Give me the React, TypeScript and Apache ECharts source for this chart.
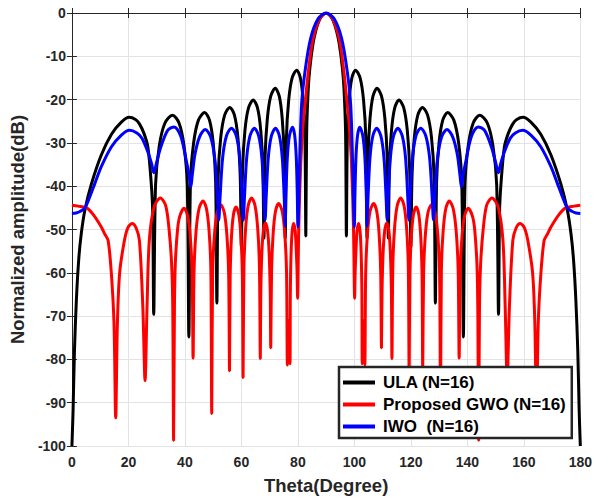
import React, { useEffect, useRef } from "react";
import * as echarts from "echarts";

const seriesNames = ["ULA (N=16)", "Proposed GWO (N=16)", "IWO  (N=16)"];
const seriesColors = ["#000000", "#ff0000", "#0000ff"];

// ULA (N=16) [theta, dB]
const ulaLeft = [
  [0, -100], [0.4, -92], [0.9, -78], [1.6, -66], [2.4, -57], [3.3, -51], [4.6, -45.5], [6.9, -39.5], [10.4, -32.8], [14, -28], [17.5, -25.2], [20.3, -24.1], [22.5, -24.6], [23.9, -25.6], [25.5, -27.8], [26.9, -31], [28.1, -39.5], [28.6, -46], [28.96, -69.6],
  [29.62, -39.6], [30.95, -30.6], [32.94, -25.4], [35.6, -23.6], [37.92, -25.4], [39.67, -30.6], [40.83, -39.6], [41.41, -74.8],
  [41.97, -39], [43.09, -30], [44.76, -24.8], [47.0, -23.0], [48.73, -24.8], [50.02, -30], [50.89, -39], [51.32, -67],
  [51.78, -37.8], [52.69, -28.8], [54.07, -23.6], [55.9, -21.8], [57.54, -23.6], [58.77, -28.8], [59.59, -37.8], [60, -54],
  [60.42, -36.1], [61.26, -27.1], [62.52, -21.9], [64.2, -20.1], [65.71, -21.9], [66.85, -27.1], [67.6, -36.1], [67.98, -52],
  [68.38, -33.4], [69.19, -24.4], [70.39, -19.2], [72.0, -17.4], [73.41, -19.2], [74.46, -24.4], [75.17, -33.4], [75.52, -52],
  [75.93, -29.2], [76.74, -20.2], [77.97, -15.0], [79.6, -13.2], [80.89, -15.0], [81.85, -20.2], [82.5, -29.2], [82.82, -51.5],
];
const ulaMain = [
  [83.11, -27.6], [83.68, -17.5], [84.26, -12.6], [85.41, -6.9], [86.42, -3.9], [87.42, -1.9], [88.28, -0.84], [90, 0],
  [91.72, -0.84], [92.58, -1.9], [93.58, -3.9], [94.59, -6.9], [95.74, -12.6], [96.32, -17.5], [96.89, -27.6],
];
const ulaRight = [
  [97.18, -51.5], [97.5, -29.2], [98.15, -20.2], [99.11, -15.0], [100.4, -13.2], [102.03, -15.0], [103.26, -20.2], [104.07, -29.2], [104.48, -52],
  [104.83, -33.4], [105.54, -24.4], [106.59, -19.2], [108.0, -17.4], [109.61, -19.2], [110.81, -24.4], [111.62, -33.4], [112.02, -52],
  [112.4, -36.1], [113.15, -27.1], [114.29, -21.9], [115.8, -20.1], [117.48, -21.9], [118.74, -27.1], [119.58, -36.1], [120, -54],
  [120.41, -37.8], [121.23, -28.8], [122.46, -23.6], [124.1, -21.8], [125.93, -23.6], [127.31, -28.8], [128.22, -37.8], [128.68, -67],
  [129.11, -39], [129.98, -30], [131.27, -24.8], [133.0, -23.0], [135.24, -24.8], [136.91, -30], [138.03, -39], [138.59, -74.8],
  [139.17, -39.6], [140.33, -30.6], [142.08, -25.4], [144.4, -23.6], [147.06, -25.4], [149.05, -30.6], [150.38, -39.6], [151.04, -69.6],
  [151.4, -46], [151.9, -39.5], [153.1, -31], [154.5, -27.8], [156.1, -25.6], [157.5, -24.6], [159.7, -24.1], [162.5, -25.2], [166, -28], [169.6, -32.8], [173.1, -39.5], [175.4, -45.5], [176.7, -51], [177.6, -57], [178.4, -66], [179.1, -78], [179.6, -92], [180, -100],
];

// Proposed GWO (N=16)
const gwoLeft = [
  [0, -44.4], [2.2, -44.6], [5.2, -45], [7.5, -46.5], [10.4, -49.4], [11.6, -51], [12.8, -52.5], [13.95, -60], [14.9, -71.7], [15.5, -93.5],
  [16.1, -71.7], [16.9, -60], [18.6, -52.5], [19.8, -49.6], [21.3, -48.6], [22.7, -49.6], [23.9, -52.5], [25.1, -67.8], [25.9, -84.9],
  [26.6, -67.8], [27.4, -52.5], [29.1, -44.8], [31.3, -42.7], [33.2, -44.5], [34.4, -50], [35.3, -58], [35.7, -68], [36.0, -98.7],
  [36.3, -68], [36.6, -58], [37.4, -50], [38.2, -46.9], [39.7, -45.1], [41.0, -46.9], [41.94, -52], [42.58, -61], [42.9, -79.7],
  [43.25, -59.4], [43.95, -50.4], [45.0, -45.2], [46.4, -43.4], [47.64, -45.2], [48.57, -50.4], [49.19, -59.4], [49.5, -92.5],
  [49.82, -60.3], [50.46, -51.3], [51.42, -46.1], [52.7, -44.3], [53.94, -46.1], [54.87, -51.3], [55.49, -60.3], [55.8, -82.6],
  [56.03, -60.8], [56.49, -51.8], [57.18, -46.6], [58.1, -44.8], [59.1, -46.6], [59.85, -51.8], [60.35, -60.8], [60.6, -84.2],
  [60.9, -58.7], [61.5, -49.7], [62.4, -44.5], [63.6, -42.7], [64.84, -44.5], [65.77, -49.7], [66.39, -58.7], [66.7, -79.8],
  [66.88, -64.5], [67.24, -55.5], [67.78, -50.3], [68.5, -48.5], [69.26, -50.3], [69.83, -55.5], [70.21, -64.5], [70.4, -77.3],
  [70.68, -60], [71.24, -51], [72.08, -45.8], [73.2, -44.0], [74.44, -45.8], [75.37, -51], [75.99, -60], [76.3, -81.3],
  [76.75, -71], [77.2, -81],
  [77.33, -64.6], [77.59, -55.6], [77.98, -50.4], [78.5, -48.6], [79.06, -50.4], [79.48, -55.6], [79.72, -60], [79.9, -65.9],
];
const gwoMain = [
  [80.3, -50], [81.0, -35], [81.8, -26], [82.5, -21.3], [83.7, -13.6], [85.4, -5.9], [87.8, -1.3], [90, 0],
  [92.2, -1.3], [94.6, -5.9], [96.3, -13.6], [97.5, -21.3], [98.2, -26], [99.0, -35], [99.7, -50],
];
const gwoRight = [
  [100.1, -65.9], [100.28, -60], [100.52, -55.6], [100.94, -50.4], [101.5, -48.6], [102.02, -50.4], [102.41, -55.6], [102.67, -64.6], [102.8, -81],
  [103.25, -71], [103.7, -81.3],
  [104.01, -60], [104.63, -51], [105.56, -45.8], [106.8, -44.0], [107.92, -45.8], [108.76, -51], [109.32, -60], [109.6, -77.3],
  [109.79, -64.5], [110.17, -55.5], [110.74, -50.3], [111.5, -48.5], [112.22, -50.3], [112.76, -55.5], [113.12, -64.5], [113.3, -79.8],
  [113.61, -58.7], [114.23, -49.7], [115.16, -44.5], [116.4, -42.7], [117.6, -44.5], [118.5, -49.7], [119.1, -58.7], [119.4, -84.2],
  [119.65, -60.8], [120.15, -51.8], [120.9, -46.6], [121.9, -44.8], [122.82, -46.6], [123.51, -51.8], [123.97, -60.8], [124.2, -82.6],
  [124.51, -60.3], [125.13, -51.3], [126.06, -46.1], [127.3, -44.3], [128.58, -46.1], [129.54, -51.3], [130.18, -60.3], [130.5, -92.5],
  [130.81, -59.4], [131.43, -50.4], [132.36, -45.2], [133.6, -43.4], [135.0, -45.2], [136.05, -50.4], [136.75, -59.4], [137.1, -79.7],
  [137.42, -61], [138.06, -52], [139.0, -46.9], [140.3, -45.1], [141.8, -46.9], [142.6, -50], [143.4, -58], [143.7, -68], [144.0, -98.7],
  [144.3, -68], [144.7, -58], [145.6, -50], [146.8, -44.5], [148.7, -42.7], [150.9, -44.8], [152.6, -52.5], [153.4, -67.8], [154.1, -84.9],
  [154.9, -67.8], [156.1, -52.5], [157.3, -49.6], [158.7, -48.6], [160.2, -49.6], [161.4, -52.5], [163.1, -60], [163.9, -71.7], [164.5, -93.5],
  [165.1, -71.7], [166.05, -60], [167.2, -52.5], [168.4, -51], [169.6, -49.4], [172.5, -46.5], [174.8, -45], [177.8, -44.6], [180, -44.4],
];

// IWO (N=16)
const iwoLeft = [
  [0, -46.3], [1.5, -46.2], [3, -45.8], [4.6, -45], [6.3, -42.5], [8.1, -39.4], [10.4, -35.5], [14, -30.9], [17.5, -28.2], [20.4, -27.1], [23, -27.7], [24.8, -28.9], [26.9, -32.1], [28.2, -34.8], [29.0, -36.9],
  [30, -34.5], [31.5, -30.9], [33.9, -27.1], [36.2, -26.3], [38.6, -28.6], [40.7, -34.8], [41.5, -37.5], [42.1, -40.2],
  [42.6, -37.5], [43.6, -32.5], [45.2, -28.6], [47.2, -26.9], [49.1, -28.6], [50.6, -33.8], [51.5, -42.5], [52.0, -47.8],
  [52.45, -42.6], [53.35, -33.5], [54.7, -28.4], [56.5, -26.6], [58.2, -28.4], [59.44, -33.5], [60.28, -42.6], [60.7, -47.8],
  [61.09, -42.6], [61.87, -33.5], [63.04, -28.4], [64.6, -26.6], [66.12, -28.4], [67.26, -33.5], [68.02, -42.6], [68.4, -47.8],
  [68.77, -42.6], [69.51, -33.5], [70.62, -28.4], [72.1, -26.6], [73.46, -28.4], [74.48, -33.5], [75.16, -42.6], [75.5, -49.2],
  [75.76, -42.4], [76.28, -33.3], [77.06, -28.2], [78.1, -26.4], [78.86, -28.2], [79.43, -33.3], [79.81, -42.4], [80.0, -49.4],
];
const iwoMain = [
  [80.6, -35], [81.3, -21.3], [82.5, -13.6], [84.5, -5.9], [87.2, -1.3], [90, 0],
  [92.8, -1.3], [95.5, -5.9], [97.5, -13.6], [98.7, -21.3], [99.4, -35],
];
const iwoRight = [
  [100, -49.4], [100.19, -42.4], [100.57, -33.3], [101.14, -28.2], [101.9, -26.4], [102.94, -28.2], [103.72, -33.3], [104.24, -42.4], [104.5, -49.2],
  [104.84, -42.6], [105.52, -33.5], [106.54, -28.4], [107.9, -26.6], [109.38, -28.4], [110.49, -33.5], [111.23, -42.6], [111.6, -47.8],
  [111.98, -42.6], [112.74, -33.5], [113.88, -28.4], [115.4, -26.6], [116.96, -28.4], [118.13, -33.5], [118.91, -42.6], [119.3, -47.8],
  [119.72, -42.6], [120.56, -33.5], [121.8, -28.4], [123.5, -26.6], [125.3, -28.4], [126.65, -33.5], [127.55, -42.6], [128.0, -47.8],
  [128.5, -42.5], [129.4, -33.8], [130.9, -28.6], [132.8, -26.9], [134.8, -28.6], [136.4, -32.5], [137.4, -37.5], [137.9, -40.2],
  [138.5, -37.5], [139.3, -34.8], [141.4, -28.6], [143.8, -26.3], [146.1, -27.1], [148.5, -30.9], [150, -34.5], [151, -36.9],
  [151.8, -34.8], [153.1, -32.1], [155.2, -28.9], [157, -27.7], [159.6, -27.1], [162.5, -28.2], [166, -30.9], [169.6, -35.5], [171.9, -39.4], [173.7, -42.5], [175.4, -45], [177, -45.8], [178.5, -46.2], [180, -46.3],
];

const xMin = 0, xMax = 180, xStep = 20;
const yMin = -100, yMax = 0, yStep = 10;

const FONT = "'Liberation Sans', Arial, Helvetica, sans-serif";
const AXIS_COLOR = "#262626";

export default function App() {
  const ref = useRef<HTMLDivElement>(null);

  useEffect(() => {
    document.body.style.margin = "0";
    if (!ref.current) return;
    const chart = echarts.init(ref.current, undefined, { renderer: "svg" });

    const labelStyle = { fontSize: 14, fontWeight: "bold", color: AXIS_COLOR, fontFamily: FONT };
    const nameStyle = { fontSize: 18.5, fontWeight: "bold", color: AXIS_COLOR, fontFamily: FONT };
    const lineAxis = { show: true, lineStyle: { color: AXIS_COLOR, width: 1 } };
    const tick = { show: true, inside: true, length: 5, lineStyle: { color: AXIS_COLOR, width: 1 } };
    const split = { show: true, lineStyle: { color: "#e3e3e3", width: 1, type: "solid" } };

    const datasets = [
      [...ulaLeft, ...ulaMain, ...ulaRight],
      [...gwoLeft, ...gwoMain, ...gwoRight],
      [...iwoLeft, ...iwoMain, ...iwoRight],
    ];

    chart.setOption({
      animation: false,
      backgroundColor: "#ffffff",
      textStyle: { fontFamily: FONT },
      grid: { left: 70, right: 13, top: 13, bottom: 55, containLabel: false },
      xAxis: [
        {
          type: "value", min: xMin, max: xMax, interval: xStep, position: "bottom",
          name: "Theta(Degree)", nameLocation: "middle", nameGap: 30, nameTextStyle: nameStyle,
          axisLine: lineAxis, axisTick: tick, axisLabel: { ...labelStyle, margin: 9 }, splitLine: split,
        },
        {
          type: "value", min: xMin, max: xMax, interval: xStep, position: "top",
          axisLine: lineAxis, axisTick: tick, axisLabel: { show: false }, splitLine: { show: false },
        },
      ],
      yAxis: [
        {
          type: "value", min: yMin, max: yMax, interval: yStep, position: "left",
          name: "Normalized amplitude(dB)", nameLocation: "middle", nameGap: 44, nameTextStyle: nameStyle,
          axisLine: lineAxis, axisTick: tick, axisLabel: { ...labelStyle, margin: 6 }, splitLine: split,
        },
        {
          type: "value", min: yMin, max: yMax, interval: yStep, position: "right",
          axisLine: lineAxis, axisTick: tick, axisLabel: { show: false }, splitLine: { show: false },
        },
      ],
      legend: {
        show: true,
        orient: "vertical",
        left: 339,
        top: 367,
        backgroundColor: "#ffffff",
        borderColor: "#262626",
        borderWidth: 2.5,
        borderRadius: 0,
        padding: [7, 6, 3, 4],
        itemWidth: 32,
        itemHeight: 4,
        itemGap: 5,
        icon: "rect",
        textStyle: { fontSize: 17, fontWeight: "bold", color: "#000000", fontFamily: FONT, padding: [0, 0, 0, 3] },
        data: seriesNames,
      },
      series: seriesNames.map((name, i) => ({
        name,
        type: "line",
        xAxisIndex: 0,
        yAxisIndex: 0,
        data: datasets[i],
        smooth: 0.3,
        symbol: "none",
        showSymbol: false,
        clip: true,
        color: seriesColors[i],
        lineStyle: { color: seriesColors[i], width: 3 },
        z: 2 + i,
      })),
    });

    return () => chart.dispose();
  }, []);

  return <div ref={ref} style={{ width: 595, height: 501 }} />;
}
